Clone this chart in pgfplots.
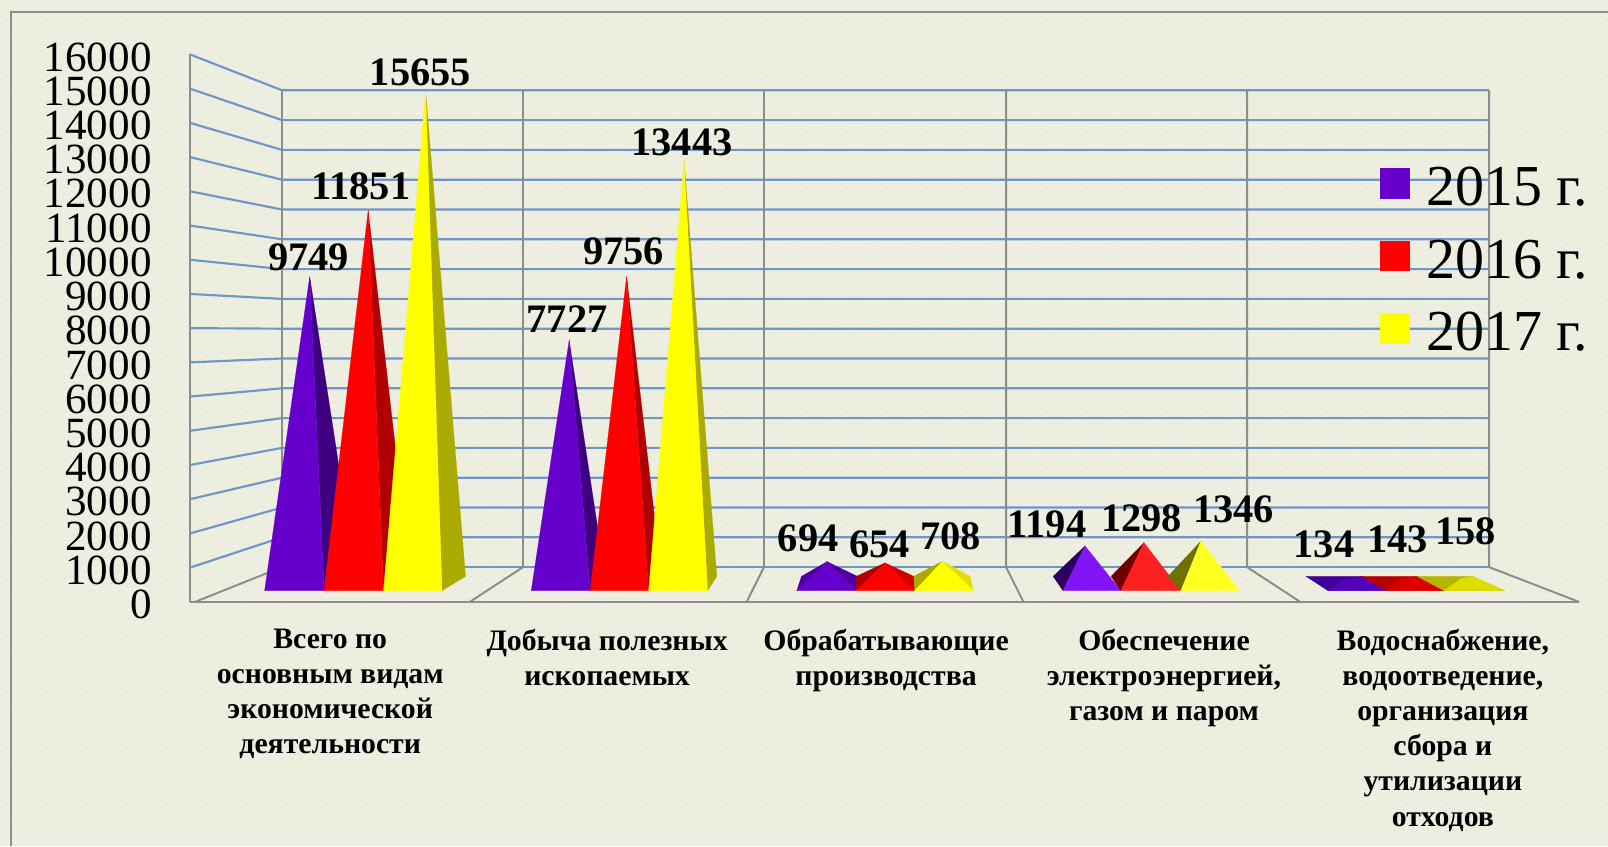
\documentclass[border=0pt]{standalone}
\usepackage{pgfplots}
\usepackage{pgfplotstable}
\pgfplotsset{compat=1.18}
\usetikzlibrary{patterns}
\usepackage{fontspec}
\setmainfont{Liberation Serif}
\pgfdeclarepatternformonly{bgwave}{\pgfqpoint{0pt}{0pt}}{\pgfqpoint{10pt}{7pt}}{\pgfqpoint{10pt}{7pt}}{%
  \pgfsetlinewidth{0.8pt}%
  \pgfpathmoveto{\pgfqpoint{0pt}{3.5pt}}%
  \pgfpathcurveto{\pgfqpoint{1.7pt}{6pt}}{\pgfqpoint{3.3pt}{6pt}}{\pgfqpoint{5pt}{3.5pt}}%
  \pgfpathcurveto{\pgfqpoint{6.7pt}{1pt}}{\pgfqpoint{8.3pt}{1pt}}{\pgfqpoint{10pt}{3.5pt}}%
  \pgfusepath{stroke}}
\definecolor{bg}{HTML}{EEEFE1}
\definecolor{bgw}{HTML}{E8EAD9}
\definecolor{framegray}{HTML}{8C8C8C}
\definecolor{wallblue}{HTML}{7096C8}
\definecolor{pr}{HTML}{6600CC}
\definecolor{prd}{HTML}{3F0080}
\definecolor{prm}{HTML}{5000A0}
\definecolor{prl}{HTML}{8414F8}
\definecolor{prk}{HTML}{2B0060}
\definecolor{re}{HTML}{FF0000}
\definecolor{red1}{HTML}{B00000}
\definecolor{rem}{HTML}{D00000}
\definecolor{rel}{HTML}{FF2020}
\definecolor{rek}{HTML}{700000}
\definecolor{ye}{HTML}{FFFF00}
\definecolor{yed}{HTML}{AAAA00}
\definecolor{yem}{HTML}{E0E000}
\definecolor{yel}{HTML}{FFFF20}
\definecolor{yek}{HTML}{707000}
\definecolor{pfa}{HTML}{3F0099}
\definecolor{pfb}{HTML}{5500BB}
\definecolor{rfa}{HTML}{B80000}
\definecolor{rfb}{HTML}{DD0000}
\definecolor{yfa}{HTML}{B5B500}
\definecolor{yfb}{HTML}{DDDD00}
% triangle of a pyramid: colour, x1, depth1, x2, depth2, apex x, value
\newcommand\tri[7]{\addplot[fill=#1,draw=#1,line width=.2pt,forget plot] table[row sep=\\,x=x,y expr=\thisrow{v}*0.92+\thisrow{b}]{x v b\\ #2 0 #3\\ #6 #7 539\\ #4 0 #5\\} -- cycle;}
% flat base of a pyramid
\newcommand\quadbase[5]{\addplot[fill=#1,draw=#1,line width=.2pt,forget plot] table[row sep=\\]{x y\\ #2 749\\ #3 749\\ #5 330\\ #4 330\\} -- cycle;}
\pgfplotstableread[row sep=\\]{
x py l\\
301 251 9749\\
352 182 11851\\
410 71 15655\\
553 311 7727\\
608 245 9756\\
665 139 13443\\
788 525 694\\
858 531 654\\
927 523 708\\
1021 511 1194\\
1113 505 1298\\
1203 497 1346\\
1291 531 134\\
1363 526 143\\
1429 518 158\\
}\labelstable
\begin{document}
\begin{tikzpicture}
\useasboundingbox (0,0) rectangle (1568pt,825pt);
\fill[bg] (0,0) rectangle (1568pt,825pt);
\fill[pattern=bgwave,pattern color=bgw] (0,0) rectangle (1568pt,825pt);
\draw[framegray,line width=1.6pt] (11pt,0)--(11pt,813pt)--(1568pt,813pt);
\begin{axis}[
  at={(185pt,238pt)},anchor=south west,
  scale only axis,width=1355pt,height=534pt,
  xmin=185,xmax=1540,ymin=0,ymax=16000,
  clip=false,
  axis lines=left,
  axis line style={-,draw=framegray,line width=2pt},
  tick style={draw=none},
  major tick length=0pt,
  ytick={0,1000,2000,3000,4000,5000,6000,7000,8000,9000,10000,11000,12000,13000,14000,15000,16000},
  scaled y ticks=false,
  /pgf/number format/assume math mode=true,
  /pgf/number format/1000 sep={},
  yticklabel style={font=\fontsize{42}{42}\selectfont,xshift=-37pt,yshift=-2.5pt,inner sep=0pt},
  xtick={322,592,864,1135,1407},
  xticklabels={{Всего по\\основным видам\\экономической\\деятельности},
    {Добыча полезных\\ископаемых},
    {Обрабатывающие\\производства},
    {Обеспечение\\электроэнергией,\\газом и паром},
    {Водоснабжение,\\водоотведение,\\организация\\сбора и\\утилизации\\отходов}},
  xticklabel style={font=\bfseries\fontsize{29}{34.3}\selectfont,align=center,anchor=north,yshift=-26pt,inner sep=0pt,execute at begin node={\rule{0pt}{21pt}}},
  legend cell align=left,
  legend image code/.code={\fill[#1] (0pt,-12.5pt) rectangle (29pt,16.5pt);\path (45pt,0pt);},
  legend style={at={(axis cs:1345,12780)},anchor=north west,draw=none,fill=none,
    font=\fontsize{56.5}{56.5}\selectfont,row sep=30.7pt,inner sep=0pt,
    nodes={inner sep=0pt,text height=40pt,text depth=0pt}},
]
% walls
\pgfplotsinvokeforeach{1000,2000,3000,4000,5000,6000,7000,8000,9000,10000,11000,12000,13000,14000,15000,16000}{
  \addplot[wallblue,line width=2.1pt,forget plot] table[row sep=\\,x=x,y expr=\thisrow{s}*#1+\thisrow{o}]{x s o\\ 185 1 0\\ 275 0.8707 1018.7\\ 1452 0.8707 1018.7\\};
}
\addplot[wallblue,line width=2.1pt,forget plot] coordinates {(275,1018.7) (1452,1018.7)};
\addplot[framegray,line width=1.9pt,forget plot] coordinates {(275,14950) (275,1018.7) (190,0)};
\addplot[framegray,line width=1.9pt,forget plot] coordinates {(510,14950) (510,1018.7) (458,0)};
\addplot[framegray,line width=1.9pt,forget plot] coordinates {(745,14950) (745,1018.7) (728,0)};
\addplot[framegray,line width=1.9pt,forget plot] coordinates {(981,14950) (981,1018.7) (998,0)};
\addplot[framegray,line width=1.9pt,forget plot] coordinates {(1216,14950) (1216,1018.7) (1268,0)};
\addplot[framegray,line width=1.9pt,forget plot] coordinates {(1452,14950) (1452,1018.7) (1540,0)};
% category 1
\tri{prd}{316}{330}{347}{749}{302}{9749}
\tri{pr}{258}{330}{316}{330}{302}{9749}
\tri{red1}{374}{330}{400}{749}{359}{11851}
\tri{re}{316}{330}{374}{330}{359}{11851}
\tri{yed}{431}{330}{454}{749}{415}{15655}
\tri{ye}{374}{330}{431}{330}{415}{15655}
% category 2
\tri{prd}{575.5}{330}{590}{749}{555}{7727}
\tri{pr}{518}{330}{575.5}{330}{555}{7727}
\tri{red1}{632.5}{330}{645}{749}{611}{9756}
\tri{re}{575.5}{330}{632.5}{330}{611}{9756}
\tri{yed}{690}{330}{699}{749}{667}{13443}
\tri{ye}{632.5}{330}{690}{330}{667}{13443}
% category 3
\tri{prm}{777}{330}{781.5}{749}{806.5}{694}
\tri{prm}{835}{330}{836}{749}{806.5}{694}
\tri{pr}{777}{330}{835}{330}{806.5}{694}
\tri{red1}{835}{330}{835}{749}{863}{654}
\tri{rem}{892}{330}{891}{749}{863}{654}
\tri{re}{835}{330}{892}{330}{863}{654}
\tri{yed}{892}{330}{891}{749}{919}{708}
\tri{yem}{949}{330}{946}{749}{919}{708}
\tri{ye}{892}{330}{949}{330}{919}{708}
% category 4
\tri{prk}{1036.5}{330}{1027}{749}{1058}{1194}
\tri{prl}{1036.5}{330}{1093}{330}{1058}{1194}
\tri{rek}{1093}{330}{1083.5}{749}{1115.5}{1298}
\tri{rel}{1093}{330}{1151.5}{330}{1115.5}{1298}
\tri{yek}{1151.5}{330}{1139}{749}{1171}{1346}
\tri{yel}{1151.5}{330}{1208.5}{330}{1171}{1346}
% category 5
\quadbase{pfa}{1273.5}{1328}{1295}{1352}
\tri{pfb}{1295}{330}{1352}{330}{1310}{134}
\tri{pfb}{1352}{330}{1328}{749}{1310}{134}
\quadbase{rfa}{1328}{1382}{1352}{1408}
\tri{rfb}{1352}{330}{1408}{330}{1367}{143}
\tri{rfb}{1408}{330}{1382}{749}{1367}{143}
\quadbase{yfa}{1382}{1436}{1408}{1467}
\tri{yfb}{1408}{330}{1467}{330}{1425}{158}
\tri{yfb}{1467}{330}{1436}{749}{1425}{158}
% value labels
\addplot[draw=none,mark=none,forget plot,point meta=explicit symbolic,
  nodes near coords,
  nodes near coords style={anchor=center,inner sep=0pt,font=\bfseries\fontsize{39.4}{39.4}\selectfont,text=black}]
  table[x=x,y expr=(587-\thisrow{py})/0.033375,meta=l]{\labelstable};
\addlegendimage{pr}\addlegendentry{2015 г.}
\addlegendimage{re}\addlegendentry{2016 г.}
\addlegendimage{ye}\addlegendentry{2017 г.}
\end{axis}
\end{tikzpicture}
\end{document}
